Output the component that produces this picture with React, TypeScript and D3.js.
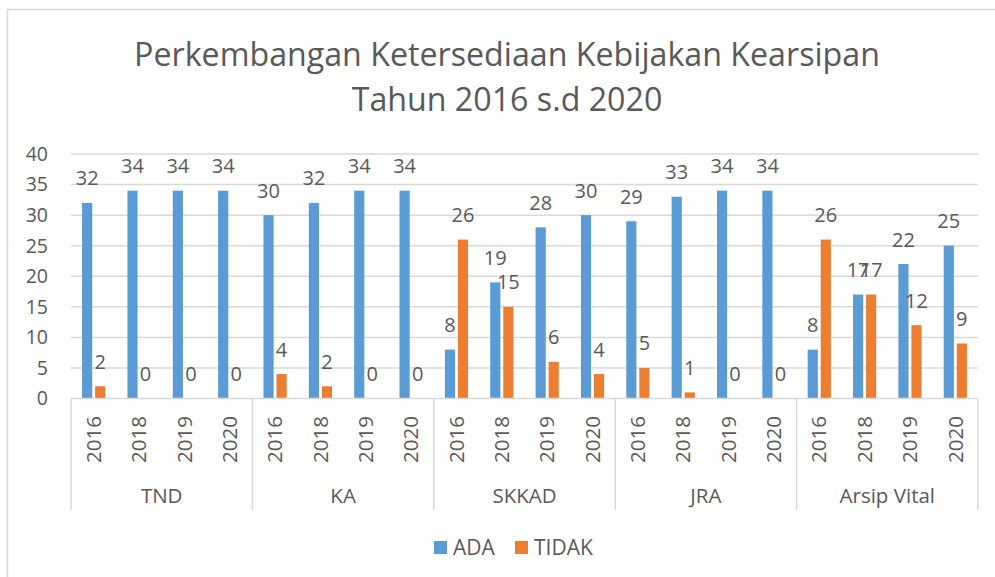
import React from "react";
import * as d3 from "d3";

const groups = ["TND", "KA", "SKKAD", "JRA", "Arsip Vital"];
const years = ["2016", "2018", "2019", "2020"];
const seriesNames = ["ADA", "TIDAK"];
const adaValues = [32, 34, 34, 34, 30, 32, 34, 34, 8, 19, 28, 30, 29, 33, 34, 34, 8, 17, 22, 25];
const tidakValues = [2, 0, 0, 0, 4, 2, 0, 0, 26, 15, 6, 4, 5, 1, 0, 0, 26, 17, 12, 9];
const yTicks = [0, 5, 10, 15, 20, 25, 30, 35, 40];
const titleLines = ["Perkembangan Ketersediaan Kebijakan Kearsipan", "Tahun 2016 s.d 2020"];

const colors = ["#5B9BD5", "#ED7D31"];
const textColor = "#595959";
const gridColor = "#D9D9D9";
const FONT = "'Open Sans', sans-serif";

export default function App() {
  const W = 995, H = 577;
  const left = 71, right = 978, top = 154, bottom = 398.5;

  const cats = groups.flatMap((g) => years.map((y) => `${g}|${y}`));
  const x = d3.scaleBand<string>().domain(cats).range([left, right]).padding(0);
  const xg = d3.scaleBand<string>().domain(groups).range([left, right]).padding(0);
  const inner = d3.scaleBand<string>().domain(seriesNames).range([-11.6, 11.6]).paddingInner(0.22).paddingOuter(0);
  const y = d3.scaleLinear().domain([0, 40]).range([bottom, top]);
  const seriesVals = [adaValues, tidakValues];

  const catCenter = (c: string) => (x(c) as number) + x.bandwidth() / 2;

  return (
    <svg width={W} height={H} style={{ position: "absolute", left: 0, top: 0, background: "#fff" }} fontFamily={FONT}>
      <rect x={7.5} y={9.5} width={1000} height={620} fill="#fff" stroke={gridColor} strokeWidth={1.5} />
      {titleLines.map((t, i) => (
        <text key={t} x={507} y={66 + i * 45} textAnchor="middle" fontSize={32.2} fill={textColor}>
          {t}
        </text>
      ))}
      {yTicks.map((t) => (
        <g key={t}>
          {t > 0 && <line x1={left} x2={right} y1={y(t)} y2={y(t)} stroke={gridColor} strokeWidth={1.5} />}
          <text x={48} y={y(t)} dy="0.35em" textAnchor="end" fontSize={19.5} fill={textColor}>
            {t}
          </text>
        </g>
      ))}
      {seriesNames.map((s, si) =>
        cats.map((c, ci) => {
          const v = seriesVals[si][ci];
          const bx = catCenter(c) + (inner(s) as number);
          return (
            <g key={s + c}>
              <rect x={bx} y={y(v)} width={inner.bandwidth()} height={bottom - y(v)} fill={colors[si]} />
              <text x={bx + inner.bandwidth() / 2} y={y(v) - 17.5} textAnchor="middle" fontSize={20} fill={textColor}>
                {v}
              </text>
            </g>
          );
        })
      )}
      <line x1={left} x2={right} y1={bottom} y2={bottom} stroke={gridColor} strokeWidth={1.5} />
      {[...groups.map((g) => xg(g) as number), right].map((gx, i) => (
        <line key={i} x1={gx} x2={gx} y1={bottom} y2={510} stroke={gridColor} strokeWidth={1.5} />
      ))}
      {cats.map((c) => (
        <text
          key={"l" + c}
          transform={`translate(${catCenter(c)},416) rotate(-90)`}
          dy="0.35em"
          textAnchor="end"
          fontSize={20.5}
          fill={textColor}
        >
          {c.split("|")[1]}
        </text>
      ))}
      {groups.map((g) => (
        <text key={"g" + g} x={(xg(g) as number) + xg.bandwidth() / 2} y={503} textAnchor="middle" fontSize={20.5} fill={textColor}>
          {g}
        </text>
      ))}
      {seriesNames.map((s, i) => {
        const lx = i === 0 ? 434 : 515;
        return (
          <g key={"leg" + s}>
            <rect x={lx} y={541} width={13} height={13} fill={colors[i]} />
            <text x={lx + 19} y={548} dy="0.35em" fontSize={21} fill={textColor}>
              {s}
            </text>
          </g>
        );
      })}
    </svg>
  );
}
